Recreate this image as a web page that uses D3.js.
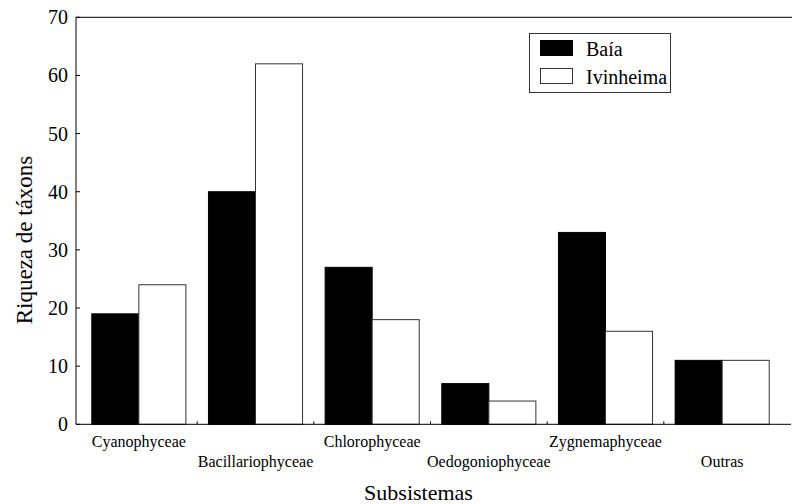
<!DOCTYPE html>
<html>
<head>
<meta charset="UTF-8">
<title>Riqueza de táxons</title>
<script src="https://d3js.org/d3.v7.min.js"></script>
<style>
    body {margin: 0; background: white;}
    text {font-family: "Liberation Serif", "Times New Roman", serif; fill: black;}
</style>
</head>
<body>
<div class="chart"></div>
<script>

    var categories = ["Cyanophyceae", "Bacillariophyceae", "Chlorophyceae", "Oedogoniophyceae", "Zygnemaphyceae", "Outras"];
    var series = ["Baía", "Ivinheima"];
    var baia = [19, 40, 27, 7, 33, 11];
    var ivinheima = [24, 62, 18, 4, 16, 11];
    var yTicks = [0, 10, 20, 30, 40, 50, 60, 70];

    var width = 792, height = 504;
    // note: "top" is taken by window.top, so the plot edges get their own names
    var plotLeft = 76, plotRight = 791, plotTop = 17.3, plotBottom = 424.3;

    var svg = d3.select(".chart").append("svg")
        .attr("width", width)
        .attr("height", height);

    var x = d3.scaleBand()
        .domain(categories)
        .range([80.5, 780.5])
        .padding(0);

    var xSub = d3.scaleBand()
        .domain(series)
        .range([0, x.bandwidth()])
        .paddingInner(0)
        .paddingOuter(0.24);

    var y = d3.scaleLinear()
        .domain([0, 70])
        .range([plotBottom, plotTop]);

    var rows = categories.map(function(c, i) {
        return [{cat: c, s: "Baía", v: baia[i]}, {cat: c, s: "Ivinheima", v: ivinheima[i]}];
    });

    // bars
    svg.append("g").selectAll("g")
        .data(rows)
        .enter().append("g")
        .attr("transform", function(d) {return "translate(" + x(d[0].cat) + ",0)"})
        .selectAll("rect")
        .data(function(d) {return d})
        .enter().append("rect")
        .attr("x", function(d) {return xSub(d.s)})
        .attr("width", xSub.bandwidth())
        .attr("y", function(d) {return y(d.v)})
        .attr("height", function(d) {return plotBottom - y(d.v)})
        .attr("fill", function(d) {return d.s == "Baía" ? "black" : "white"})
        .attr("stroke", function(d) {return d.s == "Baía" ? "black" : "#333"})
        .attr("stroke-width", 1);

    // frame
    svg.append("line").attr("x1", plotLeft).attr("x2", plotLeft).attr("y1", plotTop).attr("y2", plotBottom)
        .attr("stroke", "black");
    svg.append("line").attr("x1", plotLeft).attr("x2", 792).attr("y1", plotTop).attr("y2", plotTop)
        .attr("stroke", "black");
    svg.append("line").attr("x1", plotLeft).attr("x2", plotRight).attr("y1", plotBottom).attr("y2", plotBottom)
        .attr("stroke", "black");

    // y axis ticks (inward) and labels
    var yAxis = svg.append("g").selectAll("g")
        .data(yTicks)
        .enter().append("g")
        .attr("transform", function(d) {return "translate(0," + y(d) + ")"});
    yAxis.append("line")
        .attr("x1", plotLeft).attr("x2", plotLeft + 4)
        .attr("stroke", "black");
    yAxis.append("text")
        .attr("x", 68)
        .attr("dy", "0.35em")
        .attr("text-anchor", "end")
        .style("font-size", "20px")
        .text(function(d) {return d});

    // x ticks at category boundaries
    svg.append("g").selectAll("line")
        .data(categories.slice(1))
        .enter().append("line")
        .attr("x1", function(d) {return x(d)})
        .attr("x2", function(d) {return x(d)})
        .attr("y1", plotBottom)
        .attr("y2", plotBottom - 3)
        .attr("stroke", "black");

    // staggered category labels
    svg.append("g").selectAll("text")
        .data(categories)
        .enter().append("text")
        .attr("x", function(d) {return x(d) + x.bandwidth() / 2})
        .attr("y", function(d, i) {return i % 2 == 0 ? 446.5 : 466.5})
        .attr("text-anchor", "middle")
        .style("font-size", "16px")
        .text(function(d) {return d});

    // axis titles
    svg.append("text")
        .attr("x", 418.5)
        .attr("y", 500)
        .attr("text-anchor", "middle")
        .style("font-size", "22px")
        .text("Subsistemas");

    svg.append("text")
        .attr("transform", "translate(31.5,240) rotate(-90)")
        .attr("text-anchor", "middle")
        .style("font-size", "23px")
        .text("Riqueza de táxons");

    // legend
    var legend = svg.append("g");
    legend.append("rect")
        .attr("x", 529.5).attr("y", 33.5)
        .attr("width", 141).attr("height", 59)
        .attr("fill", "white").attr("stroke", "#333");
    var items = legend.selectAll("g")
        .data(series)
        .enter().append("g")
        .attr("transform", function(d, i) {return "translate(0," + (i * 28) + ")"});
    items.append("rect")
        .attr("x", 540.5).attr("y", 40.5)
        .attr("width", 32).attr("height", 15)
        .attr("fill", function(d, i) {return i == 0 ? "black" : "white"})
        .attr("stroke", function(d, i) {return i == 0 ? "black" : "#333"});
    items.append("text")
        .attr("x", 586)
        .attr("y", 56)
        .style("font-size", "20px")
        .text(function(d) {return d});

</script>
</body>
</html>
